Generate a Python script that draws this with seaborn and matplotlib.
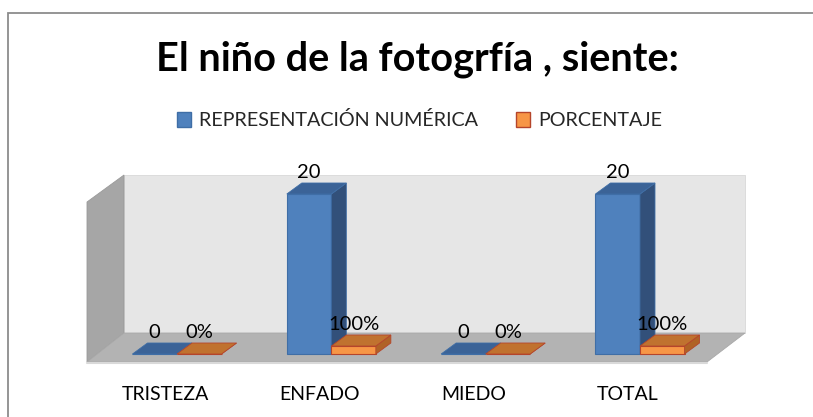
import numpy as np
import pandas as pd
import seaborn as sns
import matplotlib
matplotlib.use("Agg")
import matplotlib.pyplot as plt
from matplotlib.patches import Polygon, Rectangle, Patch

# ---- data ----
categories = ["TRISTEZA", "ENFADO", "MIEDO", "TOTAL"]
series_names = ["REPRESENTACIÓN NUMÉRICA", "PORCENTAJE"]
numeric_values = [0, 20, 0, 20]
percent_values = [0.0, 1.0, 0.0, 1.0]
numeric_labels = ["0", "20", "0", "20"]
percent_labels = ["0%", "100%", "0%", "100%"]
title_text = "El niño de la fotogrfía , siente:"

# ---- style ----
sns.set_theme(style="white")
plt.rcParams["font.family"] = ["Lato", "DejaVu Sans"]

W, H, DPI = 813, 417, 100
fig = plt.figure(figsize=(W / DPI, H / DPI), dpi=DPI)
fig.patch.set_facecolor("white")
ax = fig.add_axes([0, 0, 1, 1])

# pixel mapping
PX_X = 154.33     # px per category unit
PX_Y = 8.0        # px per value unit
X0_PX = 177.0     # px of first category
Y0_PX = 354.0     # px (from top) of value 0

def set_limits():
    ax.set_xlim(-X0_PX / PX_X, (W - X0_PX) / PX_X)
    ax.set_ylim(-(H - Y0_PX) / PX_Y, Y0_PX / PX_Y)
    ax.axis("off")

set_limits()

def px2x(px):
    return (px - X0_PX) / PX_X

def px2y(py):
    return (Y0_PX - py) / PX_Y

# ---- walls and floor ----
back_l, back_r = px2x(124), px2x(745)
back_top, back_bot = px2y(175), px2y(333)
front_l, front_r = px2x(87), px2x(707)
front_bot = px2y(362)
side_top = px2y(202)

ax.add_patch(Polygon([(back_l, back_bot), (back_r, back_bot), (back_r, back_top), (back_l, back_top)],
                     closed=True, facecolor="#e6e6e6", edgecolor="#d8d8d8", lw=0.6, zorder=1))
ax.add_patch(Polygon([(front_l, front_bot), (back_l, back_bot), (back_l, back_top), (front_l, side_top)],
                     closed=True, facecolor="#a6a6a6", edgecolor="#9a9a9a", lw=0.6, zorder=1))
ax.add_patch(Polygon([(front_l, front_bot), (front_r, front_bot), (back_r, back_bot), (back_l, back_bot)],
                     closed=True, facecolor="#b3b3b3", edgecolor="#a8a8a8", lw=0.6, zorder=1.5))
ax.plot([front_l, front_r], [front_bot - 0.15, front_bot - 0.15], color="#d9d9d9", lw=1.5, zorder=1.6)

# ---- bars ----
df = pd.DataFrame({
    "cat": categories * 2,
    "serie": [series_names[0]] * 4 + [series_names[1]] * 4,
    "val": numeric_values + percent_values,
})
blue, orange = "#4f81bd", "#f79646"
sns.barplot(data=df, x="cat", y="val", hue="serie", palette=[blue, orange],
            width=0.577, ax=ax, legend=False, saturation=1, zorder=3)
set_limits()

DX = 15 / PX_X
DY = 11 / PX_Y
styles = {
    blue: dict(edge="#3f6ea6", top="#3b6397", side="#32507a", z=3),
    orange: dict(edge="#b5452b", top="#c0722f", side="#b06226", z=4),
}
bars = [p for p in ax.patches if isinstance(p, Rectangle) and p.get_width() > 0 and p.get_zorder() == 3]
labels_all = numeric_labels + percent_labels
for i, p in enumerate(bars):
    col = blue if i < 4 else orange
    st = styles[col]
    x0, w, h = p.get_x(), p.get_width(), p.get_height()
    p.set_facecolor(col)
    p.set_edgecolor(st["edge"])
    p.set_linewidth(0.8)
    p.set_zorder(st["z"])
    x1 = x0 + w
    ax.add_patch(Polygon([(x1, 0), (x1 + DX, DY), (x1 + DX, h + DY), (x1, h)], closed=True,
                         facecolor=st["side"], edgecolor=st["edge"], lw=0.6, zorder=st["z"]))
    ax.add_patch(Polygon([(x0, h), (x1, h), (x1 + DX, h + DY), (x0 + DX, h + DY)], closed=True,
                         facecolor=st["top"], edgecolor=st["edge"], lw=0.6, zorder=st["z"] + 0.1))
    ax.text(x0 + w / 2, h + DY + 0.25, labels_all[i], ha="center", va="bottom",
            fontsize=14.5, color="#000000", zorder=6)

# ---- category labels ----
for i, c in enumerate(categories):
    ax.text(i - 12 / PX_X, px2y(394), c, ha="center", va="center", fontsize=14, color="#000000")

# ---- title ----
fig.text(417 / W, 1 - 70 / H, title_text, ha="center", va="baseline",
         fontsize=28.5, fontweight="bold", color="#000000")

# ---- legend ----
handles = [Patch(facecolor=blue, edgecolor="#3f6ea6"), Patch(facecolor=orange, edgecolor="#b5452b")]
leg = ax.legend(handles, series_names, ncol=2, loc="center", bbox_to_anchor=(419.5 / W, 1 - 120.5 / H),
                bbox_transform=fig.transFigure, frameon=False, fontsize=14.2,
                handlelength=0.72, handleheight=0.75, handletextpad=0.4, columnspacing=1.95,
                borderpad=0)

# ---- outer frame ----
fig.add_artist(Rectangle((8 / W, -0.1), 1.2, 1 - 13 / H + 0.1, transform=fig.transFigure,
                         fill=False, edgecolor="#8c8c8c", lw=1.3, clip_on=False))

fig.savefig("out.png", dpi=DPI)
